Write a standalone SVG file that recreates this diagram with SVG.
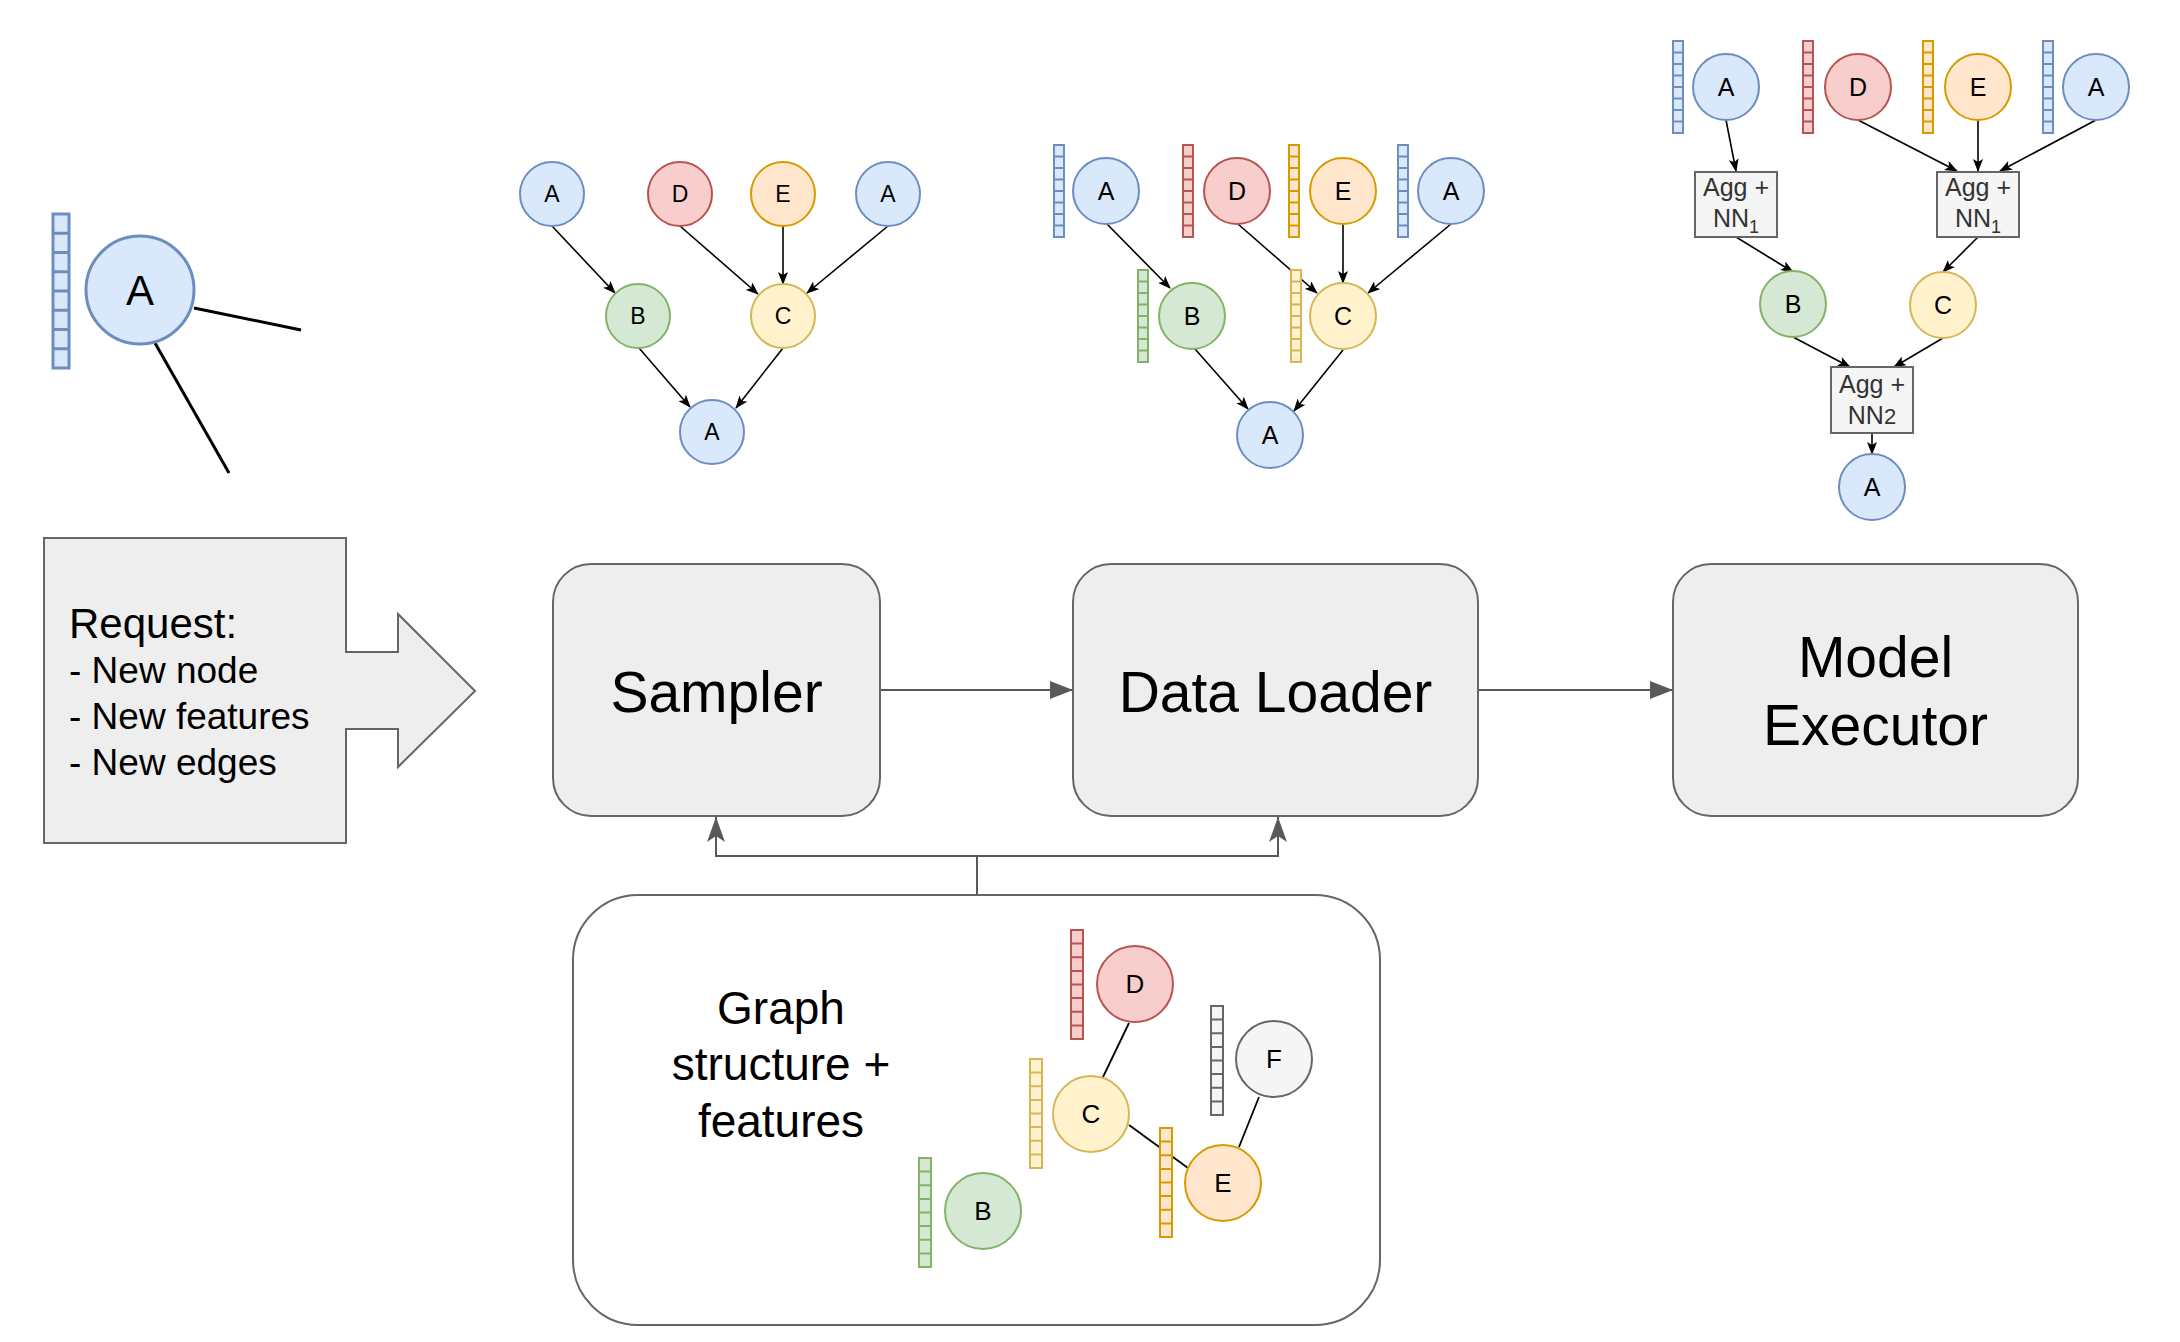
<svg xmlns="http://www.w3.org/2000/svg" xmlns:xlink="http://www.w3.org/1999/xlink" width="2180" height="1342" viewBox="0 0 2180 1342">
<style>
.blue{fill:#dae8fc;stroke:#6c8ebf}
.red{fill:#f8cecc;stroke:#b85450}
.orange{fill:#ffe6cc;stroke:#d79b00}
.green{fill:#d5e8d4;stroke:#82b366}
.yellow{fill:#fff2cc;stroke:#d6b656}
.gray{fill:#f5f5f5;stroke:#666666}
.n{stroke-width:2}
.v{stroke-width:2}
.t{font-family:"Liberation Sans",Arial,sans-serif;text-anchor:middle;fill:#000}
.box{fill:#eeeeee;stroke:#666666;stroke-width:2}
.agg{fill:#f5f5f5;stroke:#666666;stroke-width:2}
.aggt{font-family:"Liberation Sans",Arial,sans-serif;text-anchor:middle;fill:#333333;font-size:25px}
.e{stroke:#000;stroke-width:1.6;fill:none;marker-end:url(#ak)}
.ge{stroke:#000;stroke-width:1.8;fill:none}
.main{stroke:#595959;stroke-width:2;fill:none;marker-end:url(#ab)}
.feed{stroke:#595959;stroke-width:2;fill:none;marker-end:url(#ac)}
.req{font-family:"Liberation Sans",Arial,sans-serif;fill:#000}
</style>
<defs>
<marker id="ak" markerUnits="userSpaceOnUse" markerWidth="13" markerHeight="10" viewBox="0 0 13 10" refX="12" refY="5" orient="auto"><path d="M0,0 L13,5 L0,10 L3,5 Z" fill="#000"/></marker>
<marker id="ab" markerUnits="userSpaceOnUse" markerWidth="23" markerHeight="18" viewBox="0 0 23 18" refX="23" refY="9" orient="auto"><path d="M0,0 L23,9 L0,18 Z" fill="#595959"/></marker>
<marker id="ac" markerUnits="userSpaceOnUse" markerWidth="25" markerHeight="18" viewBox="0 0 25 18" refX="25" refY="9" orient="auto"><path d="M0,0 L25,9 L0,18 L6,9 Z" fill="#595959"/></marker>
<g id="v1"><rect x="0" y="0" width="10" height="92"/><path d="M0,11.5H10M0,23H10M0,34.5H10M0,46H10M0,57.5H10M0,69H10M0,80.5H10"/></g>
<g id="v2"><rect x="0" y="0" width="12" height="109"/><path d="M0,13.6H12M0,27.2H12M0,40.9H12M0,54.5H12M0,68.1H12M0,81.7H12M0,95.4H12"/></g>
<g id="v3"><rect x="0" y="0" width="16" height="154"/><path d="M0,19.25H16M0,38.5H16M0,57.75H16M0,77H16M0,96.25H16M0,115.5H16M0,134.75H16"/></g>
</defs>
<rect width="2180" height="1342" fill="#ffffff"/>

<g id="graph-store-frame">
<rect x="573" y="895" width="807" height="430" rx="65" ry="65" fill="#ffffff" stroke="#666666" stroke-width="2"/>
</g>

<g id="connectors">
<path d="M194,308 L301,330" stroke="#000" stroke-width="3"/>
<path d="M155,343 L229,473" stroke="#000" stroke-width="3"/>
<path class="e" d="M552,226 L615,293"/>
<path class="e" d="M680,226 L758,294"/>
<path class="e" d="M783,226 L783,284"/>
<path class="e" d="M888,226 L807,293"/>
<path class="e" d="M639,348 L690,407"/>
<path class="e" d="M783,348 L736,408"/>
<path class="e" d="M1107,224 L1170,288"/>
<path class="e" d="M1238,224 L1317,293"/>
<path class="e" d="M1343,224 L1343,283"/>
<path class="e" d="M1451,224 L1368,293"/>
<path class="e" d="M1195,349 L1248,409"/>
<path class="e" d="M1343,350 L1294,411"/>
<path class="e" d="M1726,120 L1736,171"/>
<path class="e" d="M1858,120 L1957,171"/>
<path class="e" d="M1978,120 L1978,171"/>
<path class="e" d="M2096,120 L2000,171"/>
<path class="e" d="M1736,237 L1793,272"/>
<path class="e" d="M1978,237 L1943,272"/>
<path class="e" d="M1793,337 L1850,367"/>
<path class="e" d="M1943,338 L1894,367"/>
<path class="e" d="M1872,433 L1872,454"/>
<path class="main" d="M880,690 H1073"/>
<path class="main" d="M1478,690 H1673"/>
<path class="feed" d="M977,895 V856 H716 V817"/>
<path class="feed" d="M977,856 H1278 V817"/>
<path class="ge" d="M1129,1023 L1103,1077"/>
<path class="ge" d="M1129,1125 L1188,1168"/>
<path class="ge" d="M1259,1097 L1239,1147"/>
</g>

<g id="new-node">
<use href="#v3" x="53" y="214" class="blue" stroke-width="3"/>
<circle cx="140" cy="290" r="54" class="blue" stroke-width="3"/>
<text class="t" x="140" y="305" font-size="42">A</text>
</g>

<g id="request">
<polygon class="box" points="44,538 346,538 346,652 398,652 398,614 475,691 398,767 398,729 346,729 346,843 44,843"/>
<text class="req" font-size="42" x="69" y="638">Request:</text>
<text class="req" font-size="37" x="69" y="683">- New node</text>
<text class="req" font-size="37" x="69" y="729">- New features</text>
<text class="req" font-size="37" x="69" y="775">- New edges</text>
</g>

<g id="sampler">
<rect class="box" x="553" y="564" width="327" height="252" rx="38" ry="38"/>
<text class="t" x="716.5" y="712" font-size="57">Sampler</text>
</g>
<g id="data-loader">
<rect class="box" x="1073" y="564" width="405" height="252" rx="38" ry="38"/>
<text class="t" x="1275.5" y="712" font-size="57">Data Loader</text>
</g>
<g id="model-executor">
<rect class="box" x="1673" y="564" width="405" height="252" rx="38" ry="38"/>
<text class="t" x="1875.5" y="677" font-size="57">Model</text>
<text class="t" x="1875.5" y="745" font-size="57">Executor</text>
</g>

<g id="graph-store">
<text class="t" x="781" y="1024" font-size="46">Graph</text>
<text class="t" x="781" y="1080" font-size="46">structure +</text>
<text class="t" x="781" y="1137" font-size="46">features</text>
<g id="store-D"><use href="#v2" x="1071" y="930" class="red v"/><circle cx="1135" cy="984" r="38" class="red n"/><text class="t" x="1135" y="993" font-size="26">D</text></g>
<g id="store-F"><use href="#v2" x="1211" y="1006" class="gray v"/><circle cx="1274" cy="1059" r="38" class="gray n"/><text class="t" x="1274" y="1068" font-size="26">F</text></g>
<g id="store-C"><use href="#v2" x="1030" y="1059" class="yellow v"/><circle cx="1091" cy="1114" r="38" class="yellow n"/><text class="t" x="1091" y="1123" font-size="26">C</text></g>
<g id="store-E"><use href="#v2" x="1160" y="1128" class="orange v"/><circle cx="1223" cy="1183" r="38" class="orange n"/><text class="t" x="1223" y="1192" font-size="26">E</text></g>
<g id="store-B"><use href="#v2" x="919" y="1158" class="green v"/><circle cx="983" cy="1211" r="38" class="green n"/><text class="t" x="983" y="1220" font-size="26">B</text></g>
</g>

<g id="graph1">
<g id="g1-A1"><circle cx="552" cy="194" r="32" class="blue n"/><text class="t" x="552" y="202" font-size="23">A</text></g>
<g id="g1-D"><circle cx="680" cy="194" r="32" class="red n"/><text class="t" x="680" y="202" font-size="23">D</text></g>
<g id="g1-E"><circle cx="783" cy="194" r="32" class="orange n"/><text class="t" x="783" y="202" font-size="23">E</text></g>
<g id="g1-A2"><circle cx="888" cy="194" r="32" class="blue n"/><text class="t" x="888" y="202" font-size="23">A</text></g>
<g id="g1-B"><circle cx="638" cy="316" r="32" class="green n"/><text class="t" x="638" y="324" font-size="23">B</text></g>
<g id="g1-C"><circle cx="783" cy="316" r="32" class="yellow n"/><text class="t" x="783" y="324" font-size="23">C</text></g>
<g id="g1-A3"><circle cx="712" cy="432" r="32" class="blue n"/><text class="t" x="712" y="440" font-size="23">A</text></g>
</g>

<g id="graph2">
<g id="g2-A1"><use href="#v1" x="1054" y="145" class="blue v"/><circle cx="1106" cy="191" r="33" class="blue n"/><text class="t" x="1106" y="200" font-size="25">A</text></g>
<g id="g2-D"><use href="#v1" x="1183" y="145" class="red v"/><circle cx="1237" cy="191" r="33" class="red n"/><text class="t" x="1237" y="200" font-size="25">D</text></g>
<g id="g2-E"><use href="#v1" x="1289" y="145" class="orange v"/><circle cx="1343" cy="191" r="33" class="orange n"/><text class="t" x="1343" y="200" font-size="25">E</text></g>
<g id="g2-A2"><use href="#v1" x="1398" y="145" class="blue v"/><circle cx="1451" cy="191" r="33" class="blue n"/><text class="t" x="1451" y="200" font-size="25">A</text></g>
<g id="g2-B"><use href="#v1" x="1138" y="270" class="green v"/><circle cx="1192" cy="316" r="33" class="green n"/><text class="t" x="1192" y="325" font-size="25">B</text></g>
<g id="g2-C"><use href="#v1" x="1291" y="270" class="yellow v"/><circle cx="1343" cy="316" r="33" class="yellow n"/><text class="t" x="1343" y="325" font-size="25">C</text></g>
<g id="g2-A3"><circle cx="1270" cy="435" r="33" class="blue n"/><text class="t" x="1270" y="444" font-size="25">A</text></g>
</g>

<g id="graph3">
<g id="g3-A1"><use href="#v1" x="1673" y="41" class="blue v"/><circle cx="1726" cy="87" r="33" class="blue n"/><text class="t" x="1726" y="96" font-size="25">A</text></g>
<g id="g3-D"><use href="#v1" x="1803" y="41" class="red v"/><circle cx="1858" cy="87" r="33" class="red n"/><text class="t" x="1858" y="96" font-size="25">D</text></g>
<g id="g3-E"><use href="#v1" x="1923" y="41" class="orange v"/><circle cx="1978" cy="87" r="33" class="orange n"/><text class="t" x="1978" y="96" font-size="25">E</text></g>
<g id="g3-A2"><use href="#v1" x="2043" y="41" class="blue v"/><circle cx="2096" cy="87" r="33" class="blue n"/><text class="t" x="2096" y="96" font-size="25">A</text></g>
<g id="g3-agg1"><rect class="agg" x="1695" y="172" width="82" height="65"/><text class="aggt" x="1736" y="196">Agg +</text><text class="aggt" x="1736" y="227">NN<tspan font-size="18" dy="6">1</tspan></text></g>
<g id="g3-agg2"><rect class="agg" x="1937" y="172" width="82" height="65"/><text class="aggt" x="1978" y="196">Agg +</text><text class="aggt" x="1978" y="227">NN<tspan font-size="18" dy="6">1</tspan></text></g>
<g id="g3-B"><circle cx="1793" cy="304" r="33" class="green n"/><text class="t" x="1793" y="313" font-size="25">B</text></g>
<g id="g3-C"><circle cx="1943" cy="305" r="33" class="yellow n"/><text class="t" x="1943" y="314" font-size="25">C</text></g>
<g id="g3-agg3"><rect class="agg" x="1831" y="367" width="82" height="66"/><text class="aggt" x="1872" y="393">Agg +</text><text class="aggt" x="1872" y="424">NN<tspan font-size="22">2</tspan></text></g>
<g id="g3-A3"><circle cx="1872" cy="487" r="33" class="blue n"/><text class="t" x="1872" y="496" font-size="25">A</text></g>
</g>
</svg>
